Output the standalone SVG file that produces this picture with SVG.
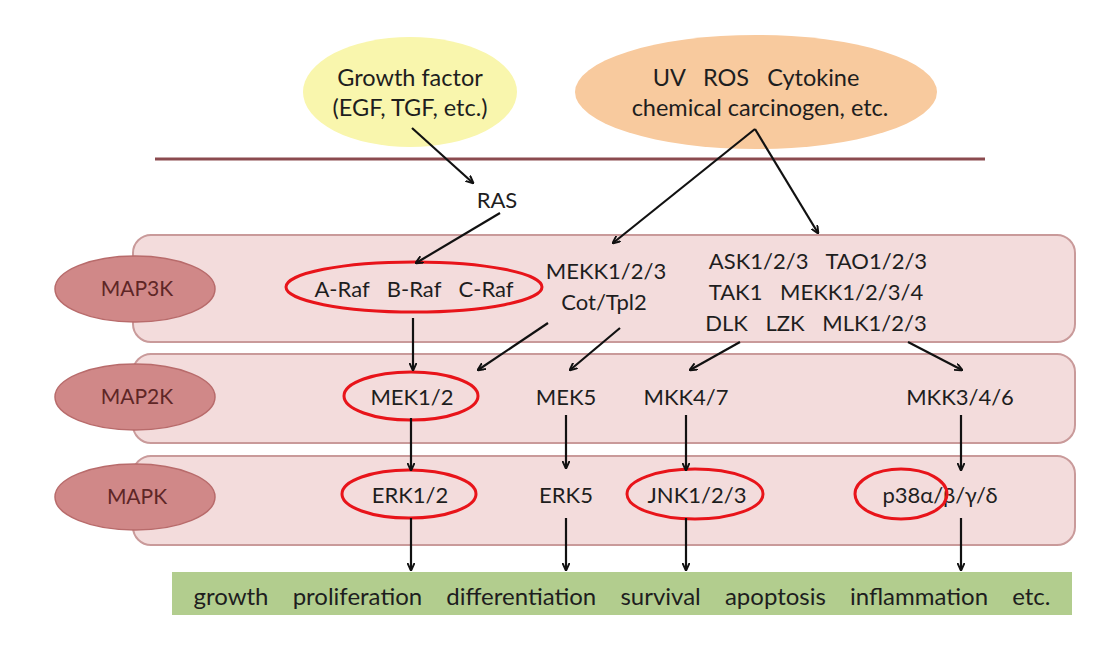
<svg xmlns="http://www.w3.org/2000/svg" width="1120" height="656" viewBox="0 0 1120 656">
<defs>
<marker id="ah" viewBox="0 0 10 10" refX="9" refY="5" markerWidth="8" markerHeight="8" orient="auto" markerUnits="userSpaceOnUse">
<path d="M0,0.5 L10,5 L0,9.5" fill="none" stroke="#111" stroke-width="2.4"/>
</marker>
<style>
text{font-family:Lato,"Open Sans","Liberation Sans",sans-serif;font-size:22px;fill:#1e1e1e;text-anchor:middle;}
.big{font-size:23.5px;}
.band{fill:#f3dcdc;stroke:#c99a9a;stroke-width:2;}
.lvl{fill:#d08888;stroke:#b86b6b;stroke-width:1.5;}
.lvlt{fill:#5e2626;font-size:21px;}
.red{fill:none;stroke:#e8141a;stroke-width:3;}
.ar{stroke:#111;stroke-width:2.2;fill:none;marker-end:url(#ah);}
</style>
</defs>
<rect width="1120" height="656" fill="#fff"/>

<g id="growth-factor">
<ellipse cx="410" cy="92" rx="107" ry="55" fill="#f9f6ad"/>
<text class="big" x="410" y="86">Growth factor</text>
<text class="big" x="410" y="116">(EGF, TGF, etc.)</text>
</g>
<g id="stress">
<ellipse cx="756" cy="92" rx="181" ry="57" fill="#f8ca9e"/>
<text class="big" x="756" y="86" style="word-spacing:12px">UV ROS Cytokine</text>
<text class="big" x="760" y="116">chemical carcinogen, etc.</text>
</g>
<g id="membrane">
<line x1="155" y1="159" x2="985" y2="159" stroke="#8b4a4f" stroke-width="3"/>
</g>
<g id="ras"><text x="497" y="208">RAS</text></g>

<g id="map3k-band">
<rect class="band" x="133" y="235" width="942" height="107" rx="18"/>
</g>
<g id="map2k-band">
<rect class="band" x="133" y="354" width="942" height="89" rx="18"/>
</g>
<g id="mapk-band">
<rect class="band" x="133" y="456" width="942" height="89" rx="18"/>
</g>

<g id="map3k-label"><ellipse class="lvl" cx="135" cy="289" rx="80" ry="33"/><text class="lvlt" x="137" y="296">MAP3K</text></g>
<g id="map2k-label"><ellipse class="lvl" cx="135" cy="397" rx="80" ry="33"/><text class="lvlt" x="137" y="404">MAP2K</text></g>
<g id="mapk-label"><ellipse class="lvl" cx="135" cy="497" rx="80" ry="33"/><text class="lvlt" x="137" y="504">MAPK</text></g>

<g id="raf">
<text x="414" y="297" style="word-spacing:12px">A-Raf B-Raf C-Raf</text>
<ellipse class="red" cx="414" cy="287" rx="128" ry="25"/>
</g>
<g id="mekk">
<text x="606" y="279">MEKK1/2/3</text>
<text x="604" y="310">Cot/Tpl2</text>
</g>
<g id="ask">
<text x="818" y="269" style="word-spacing:12px">ASK1/2/3 TAO1/2/3</text>
<text x="816" y="300" style="word-spacing:12px">TAK1 MEKK1/2/3/4</text>
<text x="816" y="331" style="word-spacing:12px">DLK LZK MLK1/2/3</text>
</g>

<g id="mek12">
<text x="412" y="405">MEK1/2</text>
<ellipse class="red" cx="411" cy="396" rx="67" ry="24"/>
</g>
<g id="mek5"><text x="566" y="405">MEK5</text></g>
<g id="mkk47"><text x="686" y="405">MKK4/7</text></g>
<g id="mkk346"><text x="960" y="405">MKK3/4/6</text></g>

<g id="erk12">
<text x="410" y="503">ERK1/2</text>
<ellipse class="red" cx="409" cy="494" rx="67" ry="24"/>
</g>
<g id="erk5"><text x="566" y="503">ERK5</text></g>
<g id="jnk">
<text x="697" y="503">JNK1/2/3</text>
<ellipse class="red" cx="695" cy="494" rx="68" ry="25"/>
</g>
<g id="p38">
<text x="940" y="503">p38α/β/γ/δ</text>
<ellipse class="red" cx="901" cy="494" rx="46" ry="25"/>
</g>

<g id="outcomes">
<rect x="172" y="572" width="900" height="43" fill="#b2cd8e"/>
<text x="622" y="605" style="font-size:24px;word-spacing:18px">growth proliferation differentiation survival apoptosis inflammation etc.</text>
</g>

<g id="connectors">
<line class="ar" x1="412" y1="128" x2="473" y2="183"/>
<line class="ar" x1="755" y1="129" x2="613" y2="243"/>
<line class="ar" x1="755" y1="129" x2="818" y2="233"/>
<line class="ar" x1="500" y1="213" x2="416" y2="263"/>
<line class="ar" x1="413" y1="318" x2="413" y2="370"/>
<line class="ar" x1="548" y1="323" x2="478" y2="370"/>
<line class="ar" x1="620" y1="328" x2="570" y2="370"/>
<line class="ar" x1="740" y1="342" x2="690" y2="370"/>
<line class="ar" x1="908" y1="342" x2="962" y2="370"/>
<line class="ar" x1="411" y1="418" x2="411" y2="470"/>
<line class="ar" x1="566" y1="415" x2="566" y2="468"/>
<line class="ar" x1="686" y1="415" x2="686" y2="470"/>
<line class="ar" x1="961" y1="415" x2="961" y2="470"/>
<line class="ar" x1="411" y1="518" x2="411" y2="570"/>
<line class="ar" x1="566" y1="518" x2="566" y2="570"/>
<line class="ar" x1="686" y1="518" x2="686" y2="570"/>
<line class="ar" x1="961" y1="518" x2="961" y2="570"/>
</g>
</svg>
